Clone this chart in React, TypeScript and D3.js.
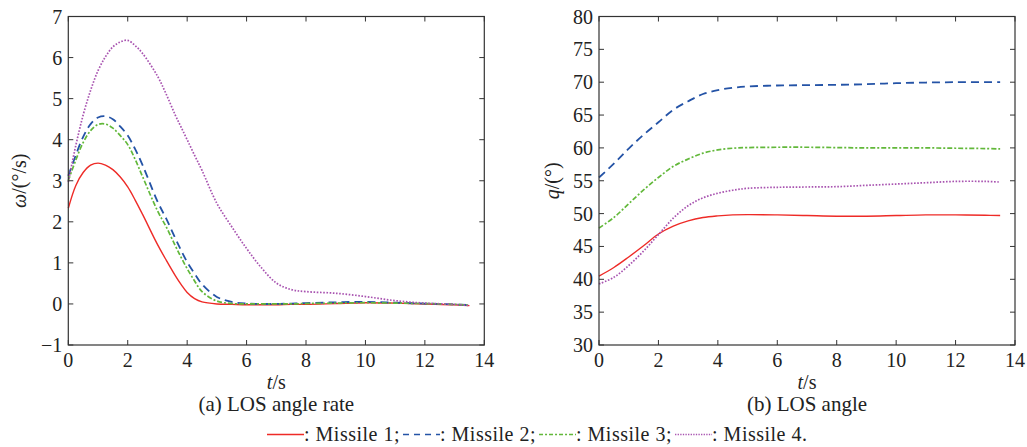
import React, { useRef, useEffect } from 'react';
import * as d3 from 'd3';

// time grids (s)
const rateTime = [0, 0.25, 0.5, 0.75, 1, 1.25, 1.5, 1.75, 2, 2.25, 2.5, 3, 3.3, 3.6, 3.8, 4, 4.25, 4.5, 5, 5.5, 6, 6.5, 7, 7.5, 8, 9, 10, 11, 12, 13, 13.5];
const angleTime = [0, 0.5, 1, 1.5, 2, 2.5, 3, 3.5, 4, 4.5, 5, 6, 7, 8, 9, 10, 11, 12, 13, 13.5];

// LOS angle rate (deg/s)
const rate1 = [2.33, 2.88, 3.2, 3.38, 3.43, 3.38, 3.27, 3.09, 2.85, 2.53, 2.18, 1.45, 1.06, 0.69, 0.47, 0.28, 0.13, 0.05, 0.0, -0.01, -0.02, -0.02, -0.02, -0.01, -0.01, 0.01, 0.03, 0.02, 0.0, -0.02, -0.04];
const rate2 = [3.12, 3.62, 4.07, 4.38, 4.54, 4.57, 4.5, 4.32, 4.1, 3.77, 3.38, 2.5, 2.07, 1.6, 1.3, 1.02, 0.74, 0.48, 0.17, 0.05, 0.01, 0.0, 0.0, 0.01, 0.02, 0.04, 0.05, 0.03, 0.01, -0.01, -0.03];
const rate3 = [3.0, 3.5, 3.93, 4.22, 4.37, 4.38, 4.28, 4.1, 3.88, 3.52, 3.1, 2.27, 1.87, 1.42, 1.13, 0.86, 0.56, 0.3, 0.07, 0.01, 0.0, 0.0, 0.0, 0.0, 0.01, 0.02, 0.03, 0.02, 0.01, -0.01, -0.03];
const rate4 = [2.97, 3.85, 4.6, 5.2, 5.68, 6.02, 6.26, 6.38, 6.42, 6.29, 6.1, 5.55, 5.1, 4.6, 4.3, 4.0, 3.62, 3.25, 2.45, 1.88, 1.35, 0.88, 0.51, 0.35, 0.3, 0.26, 0.18, 0.08, 0.02, -0.01, -0.04];

// LOS angle (deg)
const angle1 = [40.5, 41.8, 43.4, 45.1, 46.9, 48.1, 48.9, 49.4, 49.65, 49.8, 49.85, 49.8, 49.7, 49.6, 49.6, 49.7, 49.8, 49.8, 49.75, 49.7];
const angle2 = [55.5, 57.6, 59.9, 62.0, 63.9, 65.8, 67.1, 68.2, 68.8, 69.15, 69.35, 69.5, 69.55, 69.6, 69.7, 69.85, 69.95, 70.0, 70.0, 70.0];
const angle3 = [47.8, 49.4, 51.5, 53.6, 55.5, 57.2, 58.3, 59.2, 59.7, 59.95, 60.05, 60.1, 60.1, 60.05, 60.0, 60.0, 60.0, 59.95, 59.9, 59.85];
const angle4 = [39.3, 40.3, 42.1, 44.3, 46.8, 49.3, 51.2, 52.4, 53.1, 53.55, 53.85, 54.0, 54.05, 54.1, 54.3, 54.5, 54.7, 54.9, 54.9, 54.8];

const xTicks = [0, 2, 4, 6, 8, 10, 12, 14];
const rateTicks = [-1, 0, 1, 2, 3, 4, 5, 6, 7];
const angleTicks = [30, 35, 40, 45, 50, 55, 60, 65, 70, 75, 80];

const seriesNames = ['Missile 1', 'Missile 2', 'Missile 3', 'Missile 4'];
const colors = ['#ee2b27', '#2453a6', '#62b83a', '#a853b0'];
const dashes = ['none', '8,5', '5,2,2,2', '1.6,1.6'];
const widths = [1.4, 1.8, 1.7, 1.7];

const FONT = '"Liberation Serif", "Times New Roman", serif';

const App = () => {
  const ref = useRef<SVGSVGElement>(null);

  useEffect(() => {
    const svg = d3.select(ref.current);
    svg.selectAll('*').remove();

    const top = 16.5;
    const bottom = 345;

    const drawPanel = (
      left: number,
      right: number,
      yDomain: [number, number],
      yTicks: number[],
      time: number[],
      series: number[][],
      yLabel: (t: any) => void,
      yLabelX: number,
      caption: string
    ) => {
      const x = d3.scaleLinear().domain([0, 14]).range([left, right]);
      const y = d3.scaleLinear().domain(yDomain).range([bottom, top]);
      const g = svg.append('g');

      const line = d3
        .line<number>()
        .x((d, i) => x(time[i]))
        .y((d) => y(d))
        .curve(d3.curveCatmullRom.alpha(0.5));

      series.forEach((s, i) => {
        g.append('path')
          .attr('d', line(s))
          .attr('fill', 'none')
          .attr('stroke', colors[i])
          .attr('stroke-width', widths[i])
          .attr('stroke-dasharray', dashes[i]);
      });

      // frame
      g.append('rect')
        .attr('x', left)
        .attr('y', top)
        .attr('width', right - left)
        .attr('height', bottom - top)
        .attr('fill', 'none')
        .attr('stroke', '#333')
        .attr('stroke-width', 1.2);

      const tl = 5;
      xTicks.forEach((t) => {
        g.append('line').attr('x1', x(t)).attr('x2', x(t)).attr('y1', bottom).attr('y2', bottom - tl).attr('stroke', '#333');
        g.append('line').attr('x1', x(t)).attr('x2', x(t)).attr('y1', top).attr('y2', top + tl).attr('stroke', '#333');
        g.append('text')
          .attr('x', x(t))
          .attr('y', bottom + 22)
          .attr('text-anchor', 'middle')
          .style('font-family', FONT)
          .style('font-size', '20px')
          .attr('fill', '#222')
          .text(d3.format('d')(t));
      });
      yTicks.forEach((t) => {
        g.append('line').attr('x1', left).attr('x2', left + tl).attr('y1', y(t)).attr('y2', y(t)).attr('stroke', '#333');
        g.append('line').attr('x1', right).attr('x2', right - tl).attr('y1', y(t)).attr('y2', y(t)).attr('stroke', '#333');
        g.append('text')
          .attr('x', left - 6)
          .attr('y', y(t) + 7)
          .attr('text-anchor', 'end')
          .style('font-family', FONT)
          .style('font-size', '20px')
          .attr('fill', '#222')
          .text(d3.format('d')(t));
      });

      // x label
      const xl = g
        .append('text')
        .attr('x', (left + right) / 2)
        .attr('y', 389)
        .attr('text-anchor', 'middle')
        .style('font-family', FONT)
        .style('font-size', '20px')
        .attr('fill', '#222');
      xl.append('tspan').style('font-style', 'italic').text('t');
      xl.append('tspan').text('/s');

      // y label
      const yl = g
        .append('text')
        .attr('transform', `translate(${yLabelX}, ${(top + bottom) / 2}) rotate(-90)`)
        .attr('text-anchor', 'middle')
        .style('font-family', FONT)
        .style('font-size', '20px')
        .attr('fill', '#222');
      yLabel(yl);

      g.append('text')
        .attr('x', (left + right) / 2)
        .attr('y', 411)
        .attr('text-anchor', 'middle')
        .style('font-family', FONT)
        .style('font-size', '21px')
        .attr('fill', '#222')
        .text(caption);
    };

    drawPanel(
      68.3,
      484.3,
      [-1, 7],
      rateTicks,
      rateTime,
      [rate1, rate2, rate3, rate4],
      (t) => {
        t.append('tspan').style('font-style', 'italic').text('ω');
        t.append('tspan').text('/(°/s)');
      },
      26,
      '(a) LOS angle rate'
    );

    drawPanel(
      599,
      1015,
      [30, 80],
      angleTicks,
      angleTime,
      [angle1, angle2, angle3, angle4],
      (t) => {
        t.append('tspan').style('font-style', 'italic').text('q');
        t.append('tspan').text('/(°)');
      },
      559,
      '(b) LOS angle'
    );

    // legend
    const lg = svg.append('g');
    let cx = 267;
    const ly = 441;
    seriesNames.forEach((name, i) => {
      lg.append('line')
        .attr('x1', cx)
        .attr('x2', cx + 37)
        .attr('y1', ly - 6.5)
        .attr('y2', ly - 6.5)
        .attr('stroke', colors[i])
        .attr('stroke-width', i === 3 ? 1.3 : 1.5)
        .attr('stroke-dasharray', i === 1 ? '6,5' : i === 3 ? '1.3,1.3' : i === 2 ? '4,2,2,2' : 'none');
      cx += 37;
      const txt = lg
        .append('text')
        .attr('x', cx)
        .attr('y', ly)
        .style('font-family', FONT)
        .style('font-size', '20px')
        .style('letter-spacing', '0.5px')
        .attr('fill', '#222')
        .text(`: ${name}${i === 3 ? '.' : ';'}`);
      const w = (txt.node() as SVGTextElement).getComputedTextLength();
      cx += w + 3;
    });
  }, []);

  return (
    <svg
      ref={ref}
      width={1027}
      height={447}
      style={{ position: 'absolute', left: 0, top: 0, background: '#fff' }}
    ></svg>
  );
};

export default App;
